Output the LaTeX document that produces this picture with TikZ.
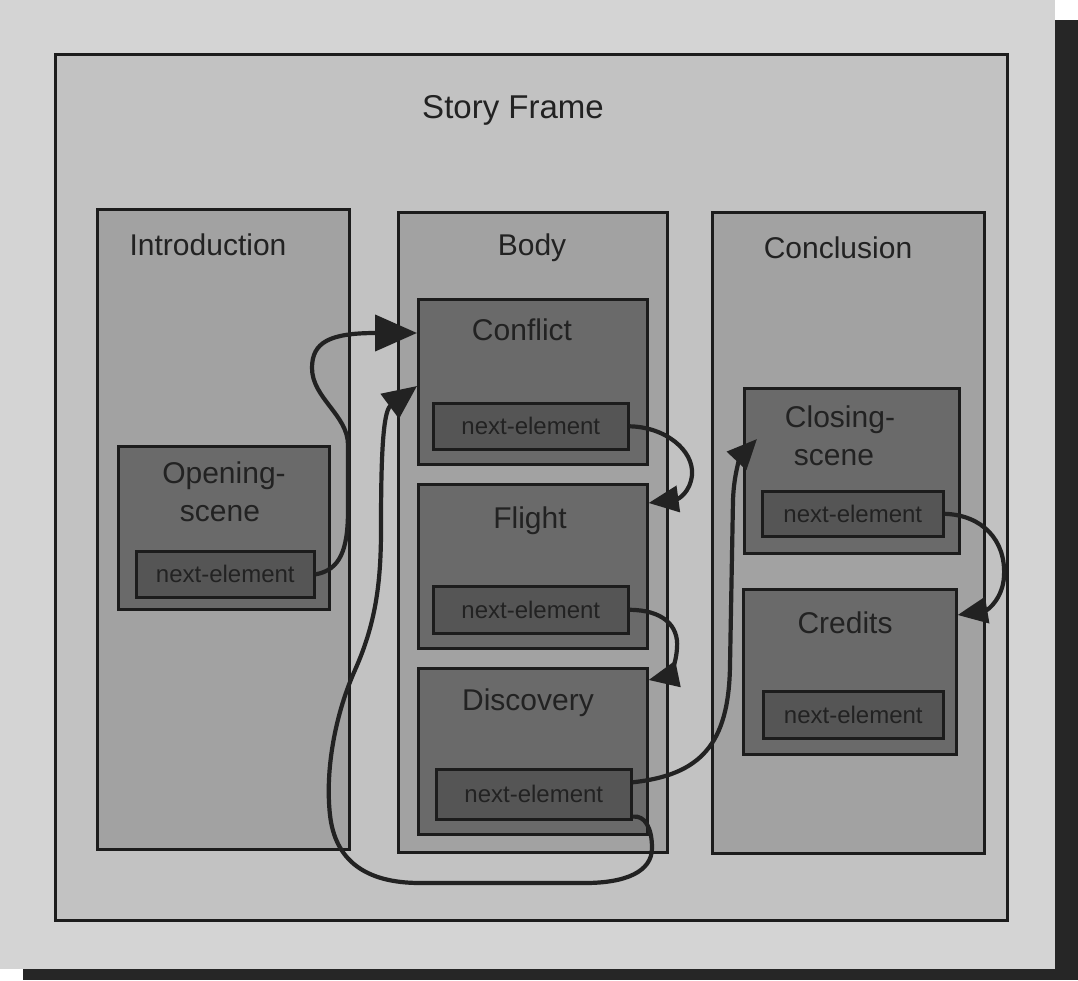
\documentclass[tikz,border=0pt]{standalone}
\usepackage{fontspec}
\setmainfont{Liberation Sans}
\usetikzlibrary{arrows.meta,calc}
\definecolor{pagebg}{HTML}{D4D4D4}
\definecolor{framebg}{HTML}{C2C2C2}
\definecolor{colbg}{HTML}{A2A2A2}
\definecolor{scenebg}{HTML}{6A6A6A}
\definecolor{nebg}{HTML}{555555}
\definecolor{edge}{HTML}{1C1C1C}
\definecolor{ink}{HTML}{222222}
\definecolor{dropshade}{HTML}{262626}
\begin{document}
\begin{tikzpicture}[x=1pt,y=-1pt,
  panel/.style={draw=edge, line width=2.6pt, inner sep=0pt, anchor=north west},
  framebox/.style={panel, fill=framebg},
  colbox/.style={panel, fill=colbg},
  scenebox/.style={panel, fill=scenebg},
  nebox/.style={panel, fill=nebg, text=ink, font=\fontsize{24}{28}\selectfont},
  biglbl/.style={anchor=base, text=ink, inner sep=0pt, font=\fontsize{33}{36}\selectfont},
  lbl/.style={anchor=base, text=ink, inner sep=0pt, font=\fontsize{30}{34}\selectfont},
  link/.style={draw=ink, line width=4.2pt},
  headA/.style={-{Triangle[length=42pt,width=36pt]}},
  headB/.style={-{Triangle[length=34pt,width=30pt]}},
  headC/.style={-{Triangle[length=30pt,width=26pt]}}]
\useasboundingbox (0,0) rectangle (1078,980);
% paper with drop shadow
\fill[white] (0,0) rectangle (1078,980);
\fill[dropshade] (23,20) rectangle (1078,980);
\fill[pagebg] (0,0) rectangle (1055,969);

% outer frame and the three columns
\node[framebox, minimum width=952pt, minimum height=866pt] (frame) at (54,53) {};
\node[biglbl] (framelbl) at (513,118) {Story Frame};

\node[colbox, minimum width=252pt, minimum height=640pt] (intro) at (96,208) {};
\node[colbox, minimum width=269pt, minimum height=640pt] (body) at (397,211) {};
\node[colbox, minimum width=272pt, minimum height=641pt] (concl) at (711,211) {};
\node[lbl] (introlbl) at (208,255) {Introduction};
\node[lbl] (bodylbl) at (532,255) {Body};
\node[lbl] (concllbl) at (838,258) {Conclusion};

% Introduction
\node[scenebox, minimum width=211pt, minimum height=163pt] (opening) at (117,445) {};
\node[lbl] (openlbla) at (224,483) {Opening-};
\node[lbl] (openlblb) at (220,521) {scene};
\node[nebox, minimum width=178pt, minimum height=46pt] (opne) at (135,550) {next-element};

% Body
\node[scenebox, minimum width=229pt, minimum height=165pt] (conflict) at (417,298) {};
\node[lbl] (conflictlbl) at (522,340) {Conflict};
\node[nebox, minimum width=195pt, minimum height=46pt] (confne) at (432,402) {next-element};

\node[scenebox, minimum width=229pt, minimum height=164pt] (flight) at (417,483) {};
\node[lbl] (flightlbl) at (530,528) {Flight};
\node[nebox, minimum width=195pt, minimum height=47pt] (flightne) at (432,585) {next-element};

\node[scenebox, minimum width=229pt, minimum height=166pt] (disc) at (417,667) {};
\node[lbl] (disclbl) at (528,710) {Discovery};
\node[nebox, minimum width=195pt, minimum height=50pt] (discne) at (435,768) {next-element};

% Conclusion
\node[scenebox, minimum width=215pt, minimum height=165pt] (closing) at (743,387) {};
\node[lbl] (closlbla) at (840,427) {Closing-};
\node[lbl] (closlblb) at (834,465) {scene};
\node[nebox, minimum width=181pt, minimum height=45pt] (closne) at (761,490) {next-element};

\node[scenebox, minimum width=213pt, minimum height=165pt] (credits) at (742,588) {};
\node[lbl] (creditslbl) at (845,633) {Credits};
\node[nebox, minimum width=180pt, minimum height=47pt] (credne) at (762,690) {next-element};

% next-element links
\draw[link, headA] (opne.east)
  .. controls (340,570) and (348,550) .. (348,510) -- (348,445)
  .. controls (348,415) and (312,398) .. (312,368)
  .. controls (312,342) and (330,333) .. ($(conflict.north west)+(0,35)$);

\draw[link, headB] ($(discne.south east)+(0,-4)$)
  .. controls (645,815) and (652,828) .. (652,848)
  .. controls (652,872) and (625,883) .. (585,883) -- (420,883)
  .. controls (365,883) and (335,860) .. (330,815)
  .. controls (325,770) and (335,715) .. (355,670)
  .. controls (375,625) and (381,585) .. (381,530)
  .. controls (381,470) and (382,412) .. ($(conflict.north west)+(0,88)$);

\draw[link, headC] ($(discne.east)+(0,-12)$)
  .. controls (700,775) and (729,745) .. (730,665) -- (733,500)
  .. controls (734,470) and (742,455) .. ($(closing.north west)+(14,52)$);

\draw[link, headC] (confne.east)
  .. controls (665,427) and (694,450) .. (692,475)
  .. controls (690,493) and (678,499) .. ($(flight.north east)+(0,20)$);

\draw[link, headC] (flightne.east)
  .. controls (662,610) and (679,625) .. (677,648)
  .. controls (676,666) and (668,676) .. ($(disc.north east)+(0,13)$);

\draw[link, headC] (closne.east)
  .. controls (982,515) and (1006,540) .. (1004,576)
  .. controls (1003,598) and (988,610) .. ($(credits.north east)+(0,27)$);
\end{tikzpicture}
\end{document}
